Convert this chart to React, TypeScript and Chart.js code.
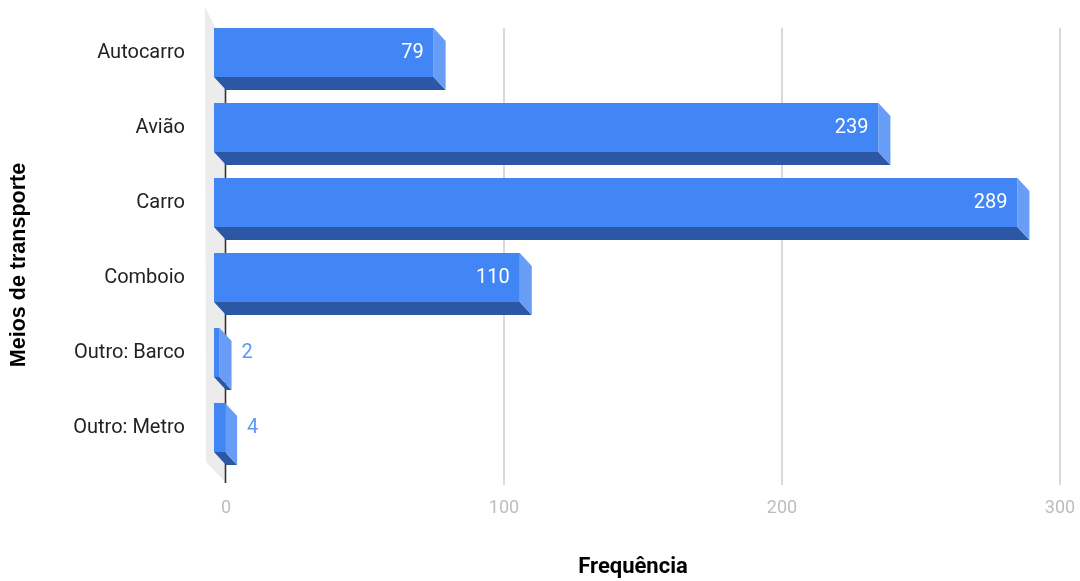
import React, { useEffect, useRef } from "react";
import { Chart, registerables } from "chart.js";

Chart.register(...registerables);

const categories = ["Autocarro", "Avião", "Carro", "Comboio", "Outro: Barco", "Outro: Metro"];
const frequencies = [79, 239, 289, 110, 2, 4];
const xTickValues = [0, 100, 200, 300];
const xTitle = "Frequência";
const yTitle = "Meios de transporte";

const DX = 12;
const DY = 13;
const FRONT = "#4285f4";
const BOTTOM = "#2b57a5";
const SIDE = "#689df6";
const WALL = "#ececec";
const GRID = "#d9d9d9";

const bars3d = {
  id: "bars3d",
  beforeDatasetsDraw(chart: any) {
    const { ctx, chartArea, scales } = chart;
    const xs = scales.x;
    const x0 = xs.getPixelForValue(0);
    const top = chartArea.top;
    const bottom = chartArea.bottom + 7;
    ctx.save();
    // back-left wall
    ctx.fillStyle = WALL;
    ctx.beginPath();
    ctx.moveTo(x0 - 21, top - 21);
    ctx.lineTo(x0 - 10, top + 1);
    ctx.lineTo(x0, top + 1);
    ctx.lineTo(x0, bottom - 2);
    ctx.lineTo(x0 - 20, bottom - 23);
    ctx.closePath();
    ctx.fill();
    // grid lines
    ctx.strokeStyle = GRID;
    ctx.lineWidth = 2;
    xTickValues.forEach((v) => {
      if (v === 0) return;
      const px = Math.round(xs.getPixelForValue(v));
      ctx.beginPath();
      ctx.moveTo(px, top);
      ctx.lineTo(px, bottom);
      ctx.stroke();
    });
    // zero axis
    ctx.strokeStyle = "#333333";
    ctx.lineWidth = 1.6;
    ctx.beginPath();
    ctx.moveTo(x0 - 0.5, top);
    ctx.lineTo(x0 - 0.5, bottom - 2);
    ctx.stroke();
    ctx.restore();
  },
  afterDatasetsDraw(chart: any) {
    const { ctx } = chart;
    const meta = chart.getDatasetMeta(0);
    const values = chart.data.datasets[0].data as number[];
    ctx.save();
    meta.data.forEach((bar: any, i: number) => {
      const { x, y, base, height } = bar.getProps(["x", "y", "base", "height"], true);
      const t = y - height / 2;
      const b = y + height / 2;
      // bottom face
      ctx.fillStyle = BOTTOM;
      ctx.beginPath();
      ctx.moveTo(base - DX, b - DY);
      ctx.lineTo(x - DX, b - DY);
      ctx.lineTo(x, b);
      ctx.lineTo(base, b);
      ctx.closePath();
      ctx.fill();
      // right face
      ctx.fillStyle = SIDE;
      ctx.beginPath();
      ctx.moveTo(x - DX, t - DY);
      ctx.lineTo(x, t);
      ctx.lineTo(x, b);
      ctx.lineTo(x - DX, b - DY);
      ctx.closePath();
      ctx.fill();
      // front face
      ctx.fillStyle = FRONT;
      ctx.fillRect(base - DX, t - DY, x - base, height);
      // value label
      const label = String(values[i]);
      ctx.font = "20px Roboto";
      ctx.textBaseline = "middle";
      const w = ctx.measureText(label).width;
      const frontRight = x - DX;
      const cy = y - DY;
      if (x - base >= w + 20) {
        ctx.fillStyle = "#ffffff";
        ctx.textAlign = "right";
        ctx.fillText(label, frontRight - 10, cy);
      } else {
        ctx.fillStyle = "#5c97f5";
        ctx.textAlign = "left";
        ctx.fillText(label, x + 10, cy);
      }
    });
    ctx.restore();
  },
  afterDraw(chart: any) {
    const { ctx, chartArea } = chart;
    ctx.save();
    ctx.fillStyle = "#000000";
    ctx.textAlign = "center";
    ctx.textBaseline = "middle";
    ctx.font = "bold 22px Roboto";
    ctx.fillText(xTitle, (chartArea.left + chartArea.right) / 2 - 10, chartArea.bottom + 89);
    ctx.translate(19, (chartArea.top + chartArea.bottom) / 2 + 12);
    ctx.rotate(-Math.PI / 2);
    ctx.font = "bold 21.5px 'Liberation Sans', Arial, sans-serif";
    ctx.fillText(yTitle, 0, 0);
    ctx.restore();
  },
};

function zeroPad(s: any) {
  s.paddingTop = 0;
  s.paddingBottom = 0;
  s.paddingLeft = 0;
  s.paddingRight = 0;
}

export default function App() {
  const ref = useRef<HTMLCanvasElement>(null);
  useEffect(() => {
    const chart = new Chart(ref.current as HTMLCanvasElement, {
      type: "bar",
      data: {
        labels: categories,
        datasets: [
          {
            data: frequencies,
            backgroundColor: "rgba(0,0,0,0)",
            borderWidth: 0,
            barThickness: 49,
          },
        ],
      },
      options: {
        animation: false,
        responsive: true,
        maintainAspectRatio: false,
        indexAxis: "y",
        layout: { padding: { left: 0, right: 20, top: 28, bottom: 0 } },
        plugins: { legend: { display: false }, tooltip: { enabled: false } },
        scales: {
          x: {
            type: "linear",
            min: 0,
            max: 300,
            afterFit: (s: any) => {
              s.height = 103;
              zeroPad(s);
            },
            afterBuildTicks: (s: any) => {
              s.ticks = xTickValues.map((v) => ({ value: v }));
            },
            grid: { display: false, drawTicks: false },
            border: { display: false },
            ticks: { font: { family: "Roboto", size: 18 }, color: "#bdbdbd", padding: 20 },
          },
          y: {
            afterFit: (s: any) => {
              s.width = 226;
              zeroPad(s);
            },
            grid: { display: false, drawTicks: false },
            border: { display: false },
            ticks: { font: { family: "Roboto", size: 20 }, color: "#222222", padding: 41, labelOffset: -13 },
          },
        },
      } as any,
      plugins: [bars3d],
    });
    return () => chart.destroy();
  }, []);
  return (
    <div style={{ position: "fixed", left: 0, top: 0, width: 1080, height: 581 }}>
      <canvas ref={ref} />
    </div>
  );
}
